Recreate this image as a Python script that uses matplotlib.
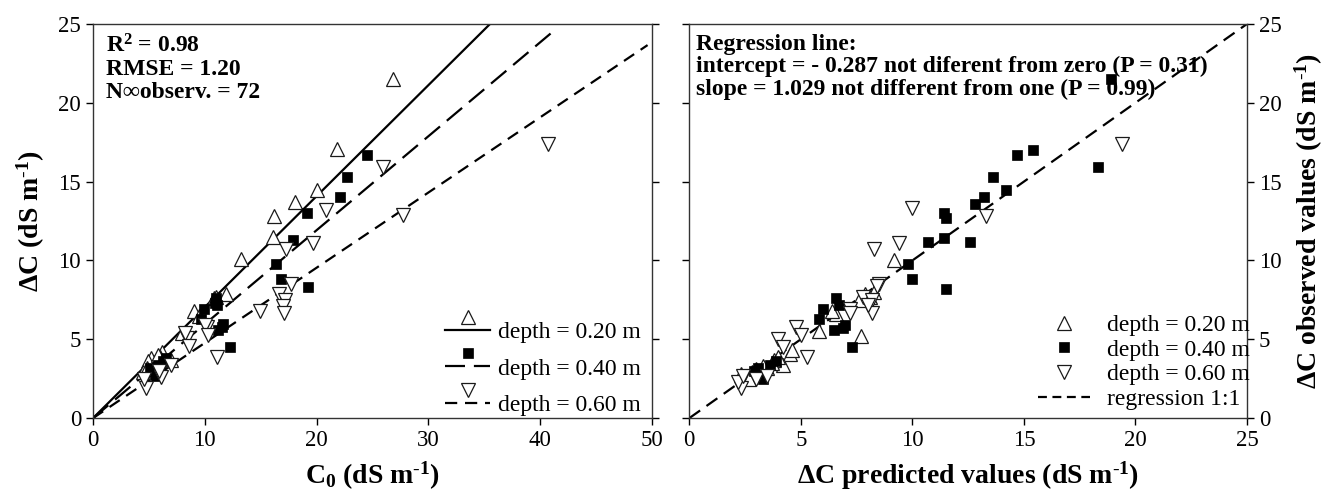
import numpy as np
import matplotlib
matplotlib.use('Agg')
import matplotlib.pyplot as plt
from matplotlib.legend_handler import HandlerLine2DCompound
from matplotlib.lines import Line2D

plt.rcParams['font.family'] = ['Liberation Serif', 'DejaVu Serif']
plt.rcParams['mathtext.fontset'] = 'custom'
plt.rcParams['mathtext.rm'] = 'Liberation Serif'
plt.rcParams['mathtext.bf'] = 'Liberation Serif:bold'
plt.rcParams['mathtext.default'] = 'bf'

# left panel: C0 vs delta C, by depth
c0_20 = [26.8, 21.8, 20.0, 18.1, 16.2, 16.1, 13.2, 11.9, 9.0, 8.0, 6.2, 5.2,
         4.9, 4.5, 6.0, 5.6, 7.0, 10.8, 5.5, 6.5, 4.8, 11.0, 9.5, 5.8]
dc_20 = [21.5, 17.1, 14.5, 13.7, 12.8, 11.5, 10.1, 7.9, 6.8, 5.4, 4.2, 3.8,
         3.6, 2.9, 3.9, 3.5, 3.7, 7.6, 3.2, 3.7, 3.2, 7.7, 6.5, 4.0]
c0_40 = [24.5, 22.7, 22.1, 19.1, 17.9, 16.4, 16.8, 19.2, 11.0, 11.1, 9.9, 9.7,
         11.6, 11.2, 12.3, 5.1, 5.8, 6.3, 5.4, 6.0, 10.9, 11.5, 5.6, 6.5]
dc_40 = [16.7, 15.3, 14.0, 13.0, 11.3, 9.8, 8.8, 8.3, 7.6, 7.2, 6.9, 6.3,
         6.0, 5.6, 4.5, 3.2, 3.4, 3.6, 2.9, 3.1, 7.3, 5.8, 2.7, 3.8]
c0_60 = [40.7, 25.9, 27.7, 20.8, 19.7, 17.3, 17.7, 16.6, 17.2, 17.0, 17.1, 14.9,
         10.2, 10.0, 10.3, 8.4, 8.2, 8.6, 11.1, 7.0, 6.1, 4.7, 4.6, 5.9]
dc_60 = [17.4, 15.9, 12.9, 13.2, 11.1, 10.7, 8.5, 7.9, 7.5, 7.1, 6.7, 6.8,
         5.8, 5.9, 5.3, 5.1, 5.4, 4.6, 3.9, 3.4, 2.6, 1.9, 2.5, 3.0]

# fitted slopes of the three lines (through origin)
slope_20 = 0.704
slope_40 = 0.596
slope_60 = 0.477
line_end_20 = 35.5
line_end_40 = 41.3
line_end_60 = 49.6

# right panel: predicted vs observed
pr_20 = [9.2, 7.7, 5.8, 4.5, 4.2, 2.3, 3.5, 7.9, 8.1, 6.6, 3.8, 2.8,
         4.6, 3.0, 8.3, 6.4, 3.3, 2.6, 4.0, 7.6, 3.1, 2.7, 3.7]
ob_20 = [10.0, 5.2, 5.5, 4.1, 3.4, 2.8, 3.2, 7.9, 7.7, 6.6, 3.7, 2.9,
         4.3, 3.1, 8.0, 6.8, 3.3, 2.6, 3.9, 7.5, 2.9, 2.5, 3.5]
pr_40 = [18.9, 18.3, 14.7, 15.4, 13.6, 14.2, 13.2, 12.8, 11.4, 11.5, 11.4, 12.6,
         10.7, 9.8, 10.0, 11.5, 6.6, 6.7, 6.0, 5.8, 6.5, 6.9, 7.0, 7.3,
         3.9, 3.6, 3.1, 3.2, 3.3, 2.9]
ob_40 = [21.5, 15.9, 16.7, 17.0, 15.3, 14.5, 14.0, 13.6, 13.0, 12.7, 11.4, 11.2,
         11.2, 9.8, 8.8, 8.2, 7.6, 7.2, 6.9, 6.3, 5.6, 5.7, 5.9, 4.5,
         3.6, 3.4, 3.2, 2.7, 2.5, 3.0]
pr_60 = [19.4, 13.3, 10.0, 9.4, 8.3, 8.5, 8.4, 7.8, 8.2, 7.2, 8.2, 7.2,
         4.8, 5.0, 5.3, 4.0, 4.2, 2.3, 2.2, 2.4, 3.0, 3.5, 8.0]
ob_60 = [17.4, 12.8, 13.3, 11.1, 10.7, 8.5, 8.4, 7.7, 7.5, 6.9, 6.7, 6.7,
         5.8, 5.3, 3.9, 5.0, 4.5, 1.9, 2.3, 2.7, 2.5, 2.7, 7.2]

x_ticks_left = [0, 10, 20, 30, 40, 50]
x_ticks_right = [0, 5, 10, 15, 20, 25]
y_ticks = [0, 5, 10, 15, 20, 25]

unit = r'(dS m$^{\text{-}1}$)'

edge = '#1a1a1a'
tri_up = dict(marker='^', ms=9.5, mfc='white', mec=edge, mew=0.9, ls='none')
tri_dn = dict(marker='v', ms=9.5, mfc='white', mec=edge, mew=0.9, ls='none')
sq = dict(marker='s', ms=7.2, mfc='black', mec='black', mew=0.5, ls='none')


class MarkerAbove(HandlerLine2DCompound):
    # sigmaplot-like legend key: symbol drawn above the line sample
    def create_artists(self, legend, orig_handle, xdescent, ydescent,
                       width, height, fontsize, trans):
        arts = super().create_artists(legend, orig_handle, xdescent, ydescent,
                                      width, height, fontsize, trans)
        line, mark = arts
        mark.set_ydata(np.asarray(mark.get_ydata()) + 0.55 * fontsize)
        return arts


fig = plt.figure(figsize=(13.28, 4.99), dpi=100)
ax1 = fig.add_axes([0.070, 0.162, 0.421, 0.790])
ax2 = fig.add_axes([0.519, 0.162, 0.420, 0.790])

# ---- left panel ----
ax1.plot([0, line_end_20], [0, slope_20 * line_end_20], color='black', lw=1.6)
ax1.plot([0, line_end_40], [0, slope_40 * line_end_40], color='black', lw=1.6,
         dashes=(9, 4))
ax1.plot([0, line_end_60], [0, slope_60 * line_end_60], color='black', lw=1.6,
         dashes=(5.5, 3.5))
ax1.plot(c0_20, dc_20, **tri_up)
ax1.plot(c0_40, dc_40, **sq)
ax1.plot(c0_60, dc_60, **tri_dn)

h1 = Line2D([], [], color='black', lw=1.6, **{k: v for k, v in tri_up.items() if k != 'ls'})
h2 = Line2D([], [], color='black', lw=1.6, dashes=(9, 4), **{k: v for k, v in sq.items() if k != 'ls'})
h3 = Line2D([], [], color='black', lw=1.6, dashes=(5.5, 3.5), **{k: v for k, v in tri_dn.items() if k != 'ls'})
ax1.legend([h1, h2, h3], ['depth = 0.20 m', 'depth = 0.40 m', 'depth = 0.60 m'],
           loc='lower right', frameon=False, fontsize=17, handlelength=1.9,
           handletextpad=0.35, labelspacing=0.62, borderaxespad=0.0,
           borderpad=0.1, bbox_to_anchor=(0.985, 0.0),
           handler_map={Line2D: MarkerAbove()})

ax1.text(0.024, 0.975, 'R$^{2}$ = 0.98\nRMSE = 1.20\nN\u221eobserv. = 72',
         transform=ax1.transAxes, ha='left', va='top', fontsize=17,
         fontweight='bold', linespacing=1.12)

ax1.set_xlim(0, 50)
ax1.set_ylim(0, 25)
ax1.set_xticks(x_ticks_left)
ax1.set_yticks(y_ticks)
ax1.tick_params(direction='out', length=5, width=1, labelsize=16.5,
                left=True, right=True, top=False, labelleft=True, labelright=False)
ax1.set_xlabel('C$_{0}$ ' + unit, fontsize=20, fontweight='bold', labelpad=6)
ax1.set_ylabel('\u0394C ' + unit, fontsize=20, fontweight='bold', labelpad=8)

# ---- right panel ----
ax2.plot([0, 25], [0, 25], color='black', lw=1.6, dashes=(6, 3.5))
ax2.plot(pr_20, ob_20, **tri_up)
ax2.plot(pr_40, ob_40, **sq)
ax2.plot(pr_60, ob_60, **tri_dn)

g1 = Line2D([], [], **tri_up)
g2 = Line2D([], [], **sq)
g3 = Line2D([], [], **tri_dn)
g4 = Line2D([], [], color='black', lw=1.6, dashes=(4, 2.5))
ax2.legend([g1, g2, g3, g4],
           ['depth = 0.20 m', 'depth = 0.40 m', 'depth = 0.60 m', 'regression 1:1'],
           loc='lower right', frameon=False, fontsize=17, handlelength=2.2,
           handletextpad=0.75, labelspacing=0.13, borderaxespad=0.0,
           borderpad=0.1, bbox_to_anchor=(1.01, 0.015))

ax2.text(0.012, 0.975, 'Regression line:\n'
         'intercept = - 0.287 not diferent from zero (P = 0.31)\n'
         'slope = 1.029 not different from one (P = 0.99)',
         transform=ax2.transAxes, ha='left', va='top', fontsize=17,
         fontweight='bold', linespacing=1.08)

ax2.set_xlim(0, 25)
ax2.set_ylim(0, 25)
ax2.set_xticks(x_ticks_right)
ax2.set_yticks(y_ticks)
ax2.tick_params(direction='out', length=5, width=1, labelsize=16.5,
                left=True, right=True, top=False, labelleft=False, labelright=True)
ax2.yaxis.set_label_position('right')
ax2.set_xlabel('\u0394C predicted values ' + unit, fontsize=20,
               fontweight='bold', labelpad=6)
ax2.set_ylabel('\u0394C observed values ' + unit, fontsize=20,
               fontweight='bold', labelpad=8)

for ax in (ax1, ax2):
    for s in ax.spines.values():
        s.set_color('#333333')
        s.set_linewidth(1.0)

fig.savefig('out.png', dpi=100)
